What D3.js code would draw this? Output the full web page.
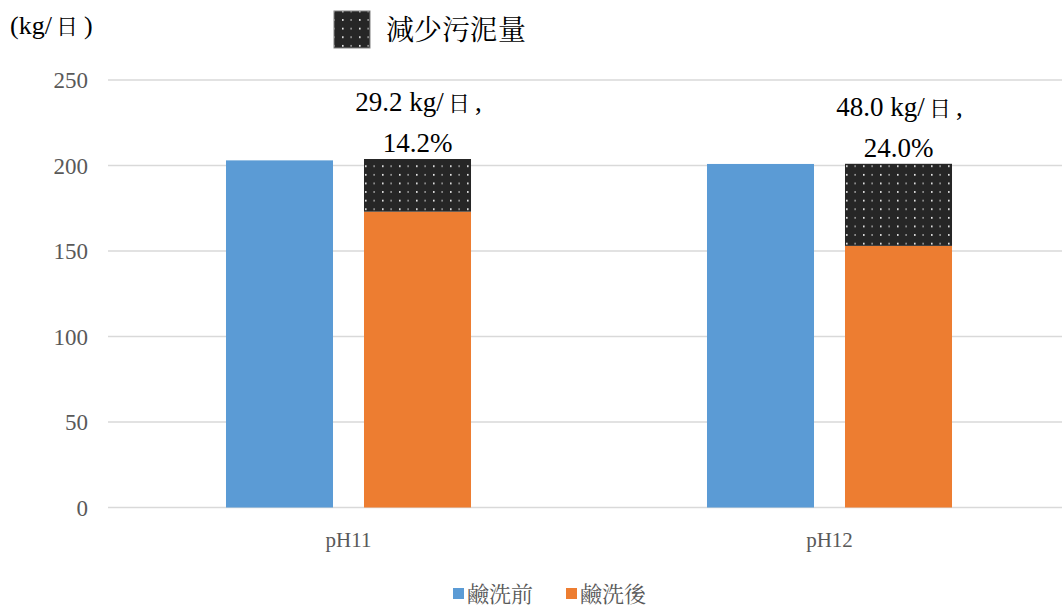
<!DOCTYPE html>
<html>
<head>
<meta charset="utf-8">
<script src="https://cdn.jsdelivr.net/npm/d3@7"></script>
<style>
  body { margin: 0; background: #fff; }
  svg { display: block; }
</style>
</head>
<body>
<div id="vis"></div>
<script>
// data
const categories = ['pH11', 'pH12']
const series = ['鹼洗前', '鹼洗後']
const beforeWash = [203.0, 200.9]
const afterWash = [173.0, 153.0]
const reduction = [30.8, 48.0]
const labelAmount = ['29.2', '48.0']
const labelPct = ['14.2%', '24.0%']
const yTicks = [0, 50, 100, 150, 200, 250]

const W = 1062, H = 610
const colors = ['#5b9bd5', '#ed7d31']
const serif = '"Liberation Serif", Tinos, serif'
const cjk = '"Noto Serif CJK TC", "Noto Sans CJK TC", serif'

const svg = d3.select('#vis').append('svg')
  .attr('width', W)
  .attr('height', H)

// dotted pattern for the reduction part
const defs = svg.append('defs')
const pat = defs.append('pattern')
  .attr('id', 'dots')
  .attr('patternUnits', 'userSpaceOnUse')
  .attr('width', 17)
  .attr('height', 8.6)
pat.append('rect').attr('width', 17).attr('height', 8.6).attr('fill', '#262626')
pat.append('rect').attr('x', 2).attr('y', 2).attr('width', 1.6).attr('height', 1.6).attr('fill', '#ffffff')
pat.append('rect').attr('x', 10.5).attr('y', 2).attr('width', 1.2).attr('height', 1.6).attr('fill', '#d0d0d0')

const plotLeft = 108, plotRight = 1070

const x0 = d3.scaleBand().domain(categories).range([plotLeft, plotRight])
const x1 = d3.scaleBand().domain(series).range([0, x0.bandwidth()])
  .paddingInner(0.2246).paddingOuter(0.855)
const y = d3.scaleLinear().domain([0, 250]).range([507.5, 80])

// gridlines
svg.append('g').selectAll('line')
  .data(yTicks).enter()
  .append('line')
  .attr('x1', plotLeft)
  .attr('x2', W)
  .attr('y1', d => y(d))
  .attr('y2', d => y(d))
  .attr('stroke', '#d9d9d9')
  .attr('stroke-width', 1.3)

// y tick labels
svg.append('g').selectAll('text')
  .data(yTicks).enter()
  .append('text')
  .attr('x', 88)
  .attr('y', d => y(d))
  .attr('dy', '0.35em')
  .attr('text-anchor', 'end')
  .attr('font-family', serif)
  .attr('font-size', '23px')
  .attr('fill', '#595959')
  .text(d => d)

const groups = svg.append('g').selectAll('g')
  .data(categories).enter()
  .append('g')
  .attr('transform', d => `translate(${x0(d)},0)`)

// before bars
groups.append('rect')
  .attr('x', x1(series[0]))
  .attr('width', x1.bandwidth())
  .attr('y', (d, i) => y(beforeWash[i]))
  .attr('height', (d, i) => y(0) - y(beforeWash[i]))
  .attr('fill', colors[0])

// after bars
groups.append('rect')
  .attr('x', x1(series[1]))
  .attr('width', x1.bandwidth())
  .attr('y', (d, i) => y(afterWash[i]))
  .attr('height', (d, i) => y(0) - y(afterWash[i]))
  .attr('fill', colors[1])

// reduction stacked on top
groups.append('rect')
  .attr('x', x1(series[1]))
  .attr('width', x1.bandwidth())
  .attr('y', (d, i) => y(afterWash[i] + reduction[i]))
  .attr('height', (d, i) => y(afterWash[i]) - y(afterWash[i] + reduction[i]))
  .attr('fill', 'url(#dots)')

// data labels
const lab1 = groups.append('text')
  .attr('x', x1(series[1]) + x1.bandwidth() / 2 + 1)
  .attr('y', (d, i) => y(afterWash[i] + reduction[i]) - 48)
  .attr('text-anchor', 'middle')
  .attr('font-family', serif)
  .attr('font-size', '27px')
  .attr('fill', '#000')
lab1.append('tspan').text((d, i) => labelAmount[i] + ' kg/')
lab1.append('tspan').attr('font-family', cjk).attr('font-size', '22px').attr('dx', 4).text('日')
lab1.append('tspan').attr('dx', 5).text(',')

groups.append('text')
  .attr('x', x1(series[1]) + x1.bandwidth() / 2)
  .attr('y', (d, i) => y(afterWash[i] + reduction[i]) - 7)
  .attr('text-anchor', 'middle')
  .attr('font-family', serif)
  .attr('font-size', '27px')
  .attr('fill', '#000')
  .text((d, i) => labelPct[i])

// category labels
groups.append('text')
  .attr('x', x0.bandwidth() / 2)
  .attr('y', 547)
  .attr('text-anchor', 'middle')
  .attr('font-family', serif)
  .attr('font-size', '21px')
  .attr('fill', '#595959')
  .text(d => d)

// unit
const unit = svg.append('text')
  .attr('x', 10)
  .attr('y', 34)
  .attr('font-family', serif)
  .attr('font-size', '26px')
  .attr('fill', '#000')
unit.append('tspan').text('(kg/')
unit.append('tspan').attr('font-family', cjk).attr('font-size', '22px').attr('dx', 4).text('日')
unit.append('tspan').attr('dx', 6).text(')')

// top legend for the pattern
svg.append('rect')
  .attr('x', 334)
  .attr('y', 11)
  .attr('width', 36)
  .attr('height', 37)
  .attr('fill', 'url(#dots)')
  .attr('stroke', '#808080')
  .attr('stroke-width', 1)
svg.append('text')
  .attr('x', 386)
  .attr('y', 30)
  .attr('dy', '0.35em')
  .attr('font-family', cjk)
  .attr('font-size', '28px')
  .attr('fill', '#000')
  .text('減少污泥量')

// bottom legend
const legendX = [453, 566]
const leg = svg.append('g').selectAll('g')
  .data(series).enter()
  .append('g')
  .attr('transform', (d, i) => `translate(${legendX[i]},588)`)
leg.append('rect')
  .attr('width', 11)
  .attr('height', 11)
  .attr('fill', (d, i) => colors[i])
leg.append('text')
  .attr('x', 14)
  .attr('y', 6)
  .attr('dy', '0.35em')
  .attr('font-family', cjk)
  .attr('font-size', '22px')
  .attr('fill', '#595959')
  .text(d => d)
</script>
</body>
</html>
